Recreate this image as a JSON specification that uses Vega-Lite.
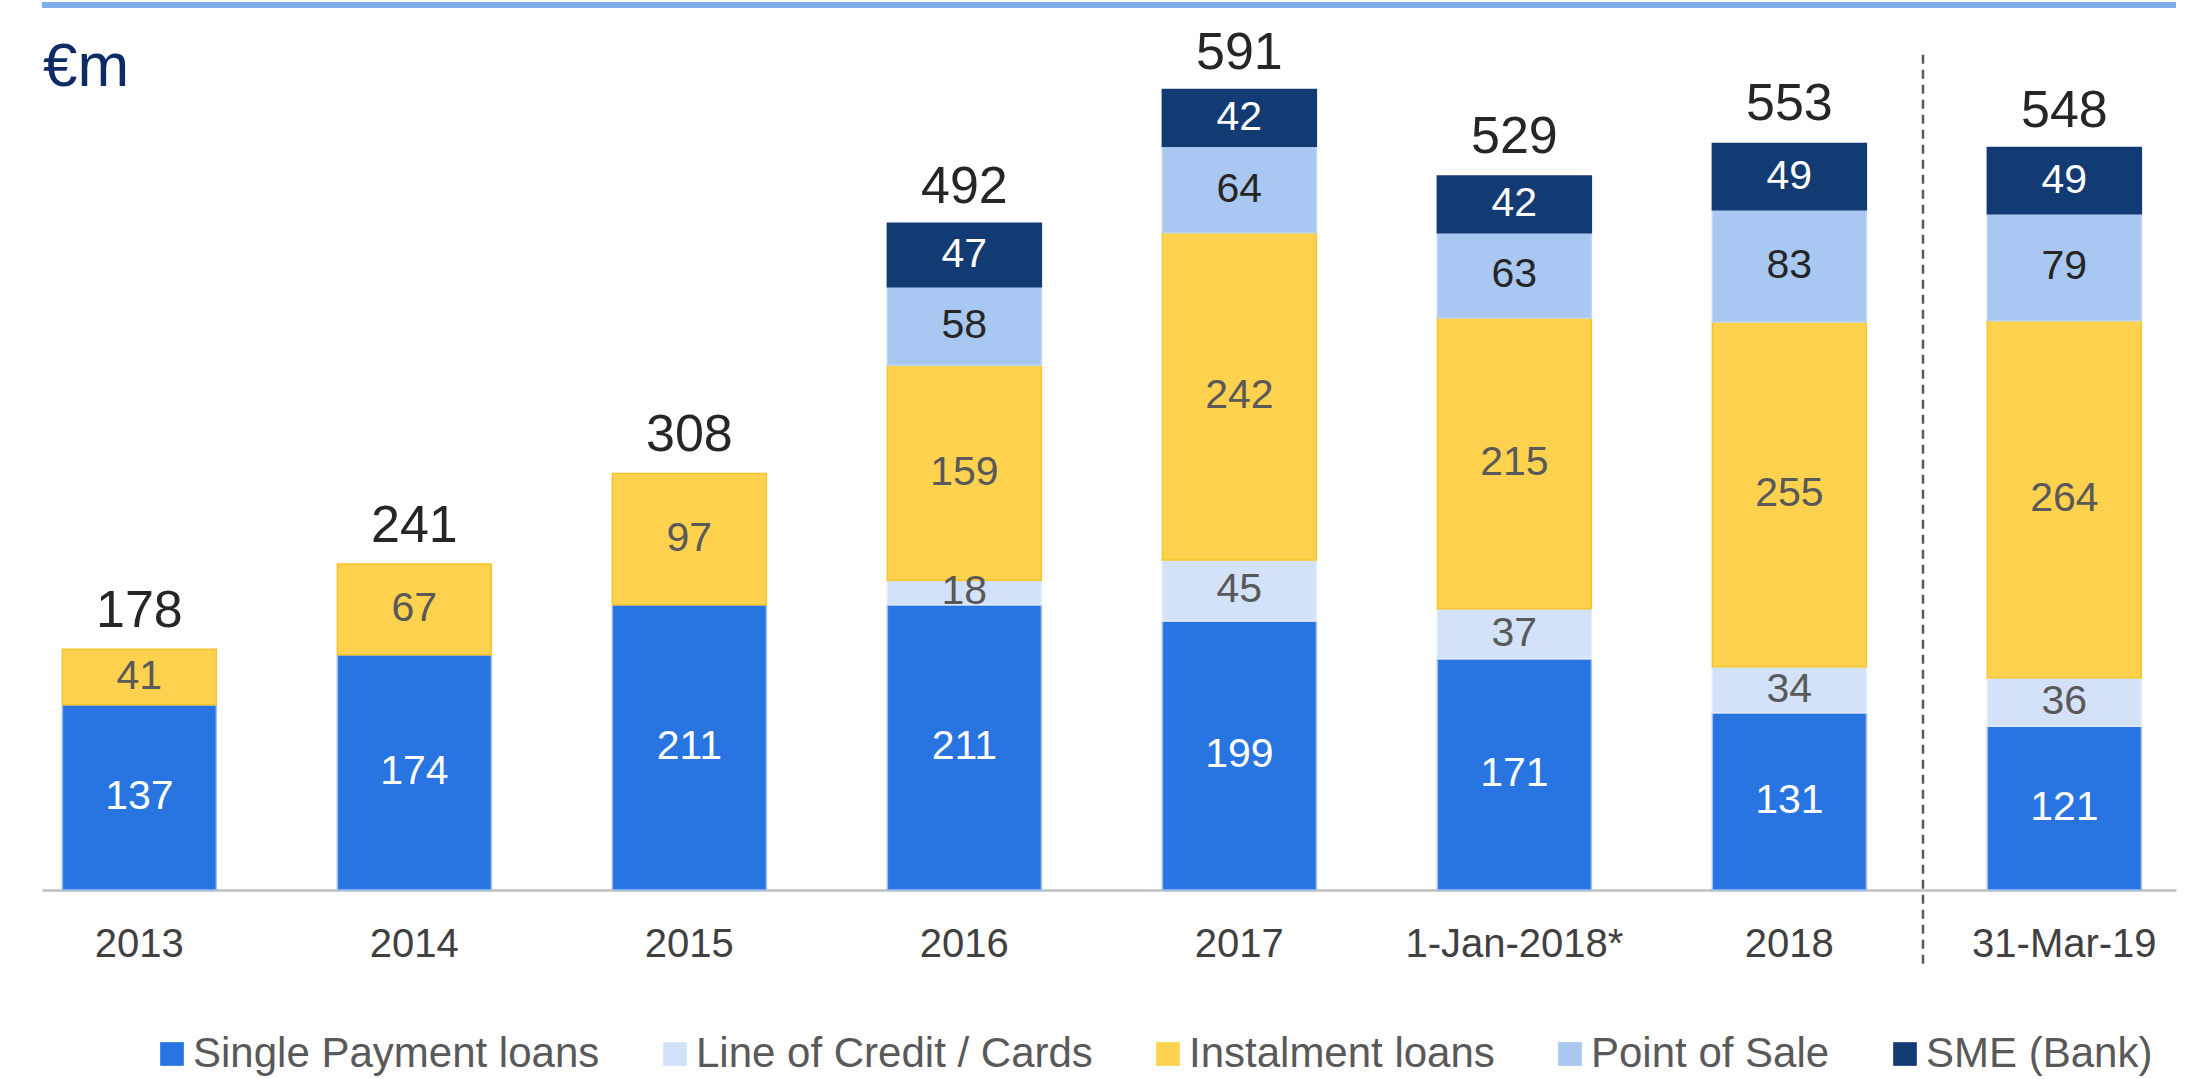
{
  "$schema": "https://vega.github.io/schema/vega-lite/v6.json",
  "autosize": "none",
  "width": 2134,
  "height": 879,
  "padding": {"left": 42, "top": 11, "right": 32, "bottom": 189},
  "background": "white",
  "config": {"view": {"stroke": null}, "font": "Liberation Sans"},
  "datasets": {
    "segments": [
      {"period": "2013", "series": "Single Payment loans", "value": 137, "order": 1},
      {"period": "2013", "series": "Instalment loans", "value": 41, "order": 3},
      {"period": "2014", "series": "Single Payment loans", "value": 174, "order": 1},
      {"period": "2014", "series": "Instalment loans", "value": 67, "order": 3},
      {"period": "2015", "series": "Single Payment loans", "value": 211, "order": 1},
      {"period": "2015", "series": "Instalment loans", "value": 97, "order": 3},
      {"period": "2016", "series": "Single Payment loans", "value": 211, "order": 1},
      {"period": "2016", "series": "Line of Credit / Cards", "value": 18, "order": 2},
      {"period": "2016", "series": "Instalment loans", "value": 159, "order": 3},
      {"period": "2016", "series": "Point of Sale", "value": 58, "order": 4},
      {"period": "2016", "series": "SME (Bank)", "value": 47, "order": 5},
      {"period": "2017", "series": "Single Payment loans", "value": 199, "order": 1},
      {"period": "2017", "series": "Line of Credit / Cards", "value": 45, "order": 2},
      {"period": "2017", "series": "Instalment loans", "value": 242, "order": 3},
      {"period": "2017", "series": "Point of Sale", "value": 64, "order": 4},
      {"period": "2017", "series": "SME (Bank)", "value": 42, "order": 5},
      {"period": "1-Jan-2018*", "series": "Single Payment loans", "value": 171, "order": 1},
      {"period": "1-Jan-2018*", "series": "Line of Credit / Cards", "value": 37, "order": 2},
      {"period": "1-Jan-2018*", "series": "Instalment loans", "value": 215, "order": 3},
      {"period": "1-Jan-2018*", "series": "Point of Sale", "value": 63, "order": 4},
      {"period": "1-Jan-2018*", "series": "SME (Bank)", "value": 42, "order": 5},
      {"period": "2018", "series": "Single Payment loans", "value": 131, "order": 1},
      {"period": "2018", "series": "Line of Credit / Cards", "value": 34, "order": 2},
      {"period": "2018", "series": "Instalment loans", "value": 255, "order": 3},
      {"period": "2018", "series": "Point of Sale", "value": 83, "order": 4},
      {"period": "2018", "series": "SME (Bank)", "value": 49, "order": 5},
      {"period": "31-Mar-19", "series": "Single Payment loans", "value": 121, "order": 1},
      {"period": "31-Mar-19", "series": "Line of Credit / Cards", "value": 36, "order": 2},
      {"period": "31-Mar-19", "series": "Instalment loans", "value": 264, "order": 3},
      {"period": "31-Mar-19", "series": "Point of Sale", "value": 79, "order": 4},
      {"period": "31-Mar-19", "series": "SME (Bank)", "value": 49, "order": 5}
    ],
    "totals": [
      {"period": "2013", "total": 178},
      {"period": "2014", "total": 241},
      {"period": "2015", "total": 308},
      {"period": "2016", "total": 492},
      {"period": "2017", "total": 591},
      {"period": "1-Jan-2018*", "total": 529},
      {"period": "2018", "total": 553},
      {"period": "31-Mar-19", "total": 548}
    ]
  },
  "layer": [
    {
      "data": {"values": [{}]},
      "mark": {"type": "rule", "color": "#7FAEEA", "strokeWidth": 6},
      "encoding": {"y": {"datum": 654.5, "type": "quantitative", "scale": {"domain": [0, 650]}, "axis": null}}
    },
    {
      "data": {"name": "segments"},
      "transform": [
        {"stack": "value", "groupby": ["period"], "sort": [{"field": "order", "order": "ascending"}], "as": ["v0", "v1"]}
      ],
      "mark": {"type": "bar", "strokeWidth": 1.5},
      "encoding": {
        "x": {
          "field": "period", "type": "nominal", "sort": null,
          "scale": {"paddingInner": 0.44, "paddingOuter": 0.1, "align": 0.37},
          "axis": {"title": null, "labelFontSize": 40, "labelColor": "#404040", "labelFont": "Liberation Sans", "labelPadding": 34, "labelLimit": 0, "ticks": false, "domainColor": "#BFBFBF", "domainWidth": 2.5, "labelAngle": 0, "grid": false}
        },
        "y": {"field": "v0", "type": "quantitative", "scale": {"domain": [0, 650]}, "axis": null},
        "y2": {"field": "v1"},
        "color": {
          "field": "series", "type": "nominal",
          "scale": {
            "domain": ["Single Payment loans", "Line of Credit / Cards", "Instalment loans", "Point of Sale", "SME (Bank)"],
            "range": ["#2874E0", "#D3E2F8", "#FED14E", "#A8C8F1", "#123A73"]
          },
          "legend": {"title": null, "orient": "none", "legendX": 109, "legendY": 1022, "direction": "horizontal", "columns": 5, "symbolType": "square", "symbolSize": 560, "symbolStrokeWidth": 0, "labelFontSize": 42, "labelColor": "#595959", "labelFont": "Liberation Sans", "columnPadding": 54, "labelOffset": 0, "padding": 0, "labelLimit": 700}
        },
        "stroke": {
          "field": "series", "type": "nominal",
          "scale": {
            "domain": ["Single Payment loans", "Line of Credit / Cards", "Instalment loans", "Point of Sale", "SME (Bank)"],
            "range": ["#9CBDF0", "#E2ECFA", "#F7C52B", "#BFD6F5", "#123A73"]
          },
          "legend": null
        }
      }
    },
    {
      "data": {"name": "segments"},
      "transform": [
        {"stack": "value", "groupby": ["period"], "sort": [{"field": "order", "order": "ascending"}], "as": ["v0", "v1"]},
        {"calculate": "(datum.v0 + datum.v1) / 2", "as": "mid"}
      ],
      "mark": {"type": "text", "fontSize": 41, "font": "Liberation Sans", "baseline": "middle", "align": "center"},
      "encoding": {
        "x": {"field": "period", "type": "nominal", "sort": null},
        "y": {"field": "mid", "type": "quantitative"},
        "text": {"field": "value", "type": "quantitative"},
        "color": {
          "condition": [
            {"test": "datum.series === 'Single Payment loans' || datum.series === 'SME (Bank)'", "value": "#FFFFFF"},
            {"test": "datum.series === 'Point of Sale'", "value": "#262626"}
          ],
          "value": "#595959"
        }
      }
    },
    {
      "data": {"name": "totals"},
      "mark": {"type": "text", "fontSize": 52, "font": "Liberation Sans", "baseline": "alphabetic", "align": "center", "dy": -22, "color": "#262626"},
      "encoding": {
        "x": {"field": "period", "type": "nominal", "sort": null},
        "y": {"field": "total", "type": "quantitative"},
        "text": {"field": "total", "type": "quantitative"}
      }
    },
    {
      "data": {"values": [{}]},
      "mark": {"type": "rule", "color": "#595959", "strokeWidth": 2.5, "strokeDash": [9, 6]},
      "encoding": {
        "x": {"datum": "31-Mar-19", "type": "nominal", "bandPosition": -0.418},
        "y": {"datum": 617.6, "type": "quantitative"},
        "y2": {"datum": -58.4}
      }
    },
    {
      "data": {"values": [{"unit": "€m", "period": "2013"}]},
      "mark": {"type": "text", "fontSize": 62, "font": "Liberation Sans", "color": "#0F2B67", "align": "left", "baseline": "alphabetic"},
      "encoding": {
        "x": {"field": "period", "type": "nominal", "sort": null, "bandPosition": -0.125},
        "y": {"datum": 594.7, "type": "quantitative"},
        "text": {"field": "unit", "type": "nominal"}
      }
    }
  ]
}
